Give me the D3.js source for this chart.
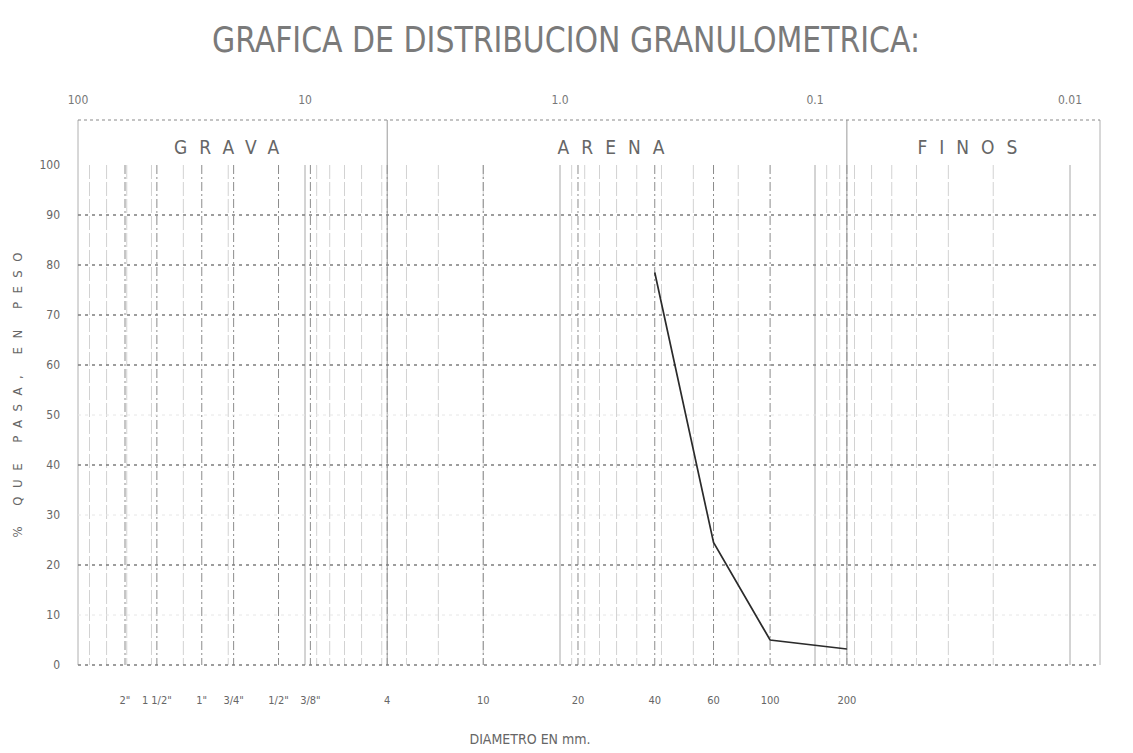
<!DOCTYPE html>
<html>
<head>
<meta charset="utf-8">
<script src="https://cdn.jsdelivr.net/npm/d3@7"></script>
<style>
  body { margin: 0; background: #fff; }
  svg { display: block; }
  text { font-family: 'Liberation Sans Narrow', 'DejaVu Sans Condensed', sans-serif; }
</style>
</head>
<body>
<svg id="chart" width="1133" height="753"></svg>
<script>
const title = 'GRAFICA  DE  DISTRIBUCION  GRANULOMETRICA:';

// escala superior (diametro en mm)
const topTicks = [100, 10, 1, 0.1, 0.01];
const topTickLabels = ['100', '10', '1.0', '0.1', '0.01'];

// mallas (abertura en mm) y su etiqueta
const sieveOpenings = [50.8, 38.1, 25.4, 19.05, 12.7, 9.525, 4.76, 2.0, 0.85, 0.425, 0.25, 0.15, 0.075];
const sieveLabels = ['2"', '1 1/2"', '1"', '3/4"', '1/2"', '3/8"', '4', '10', '20', '40', '60', '100', '200'];

// curva granulometrica
const curveOpenings = [0.425, 0.25, 0.15, 0.075];
const curvePassing = [78.5, 24.5, 5, 3.2];

const yTicks = [0, 10, 20, 30, 40, 50, 60, 70, 80, 90, 100];
const yDotted = [0, 20, 40, 60, 70, 80, 90];
const yFaint = [10, 30, 50];

const zones = ['GRAVA', 'ARENA', 'FINOS'];
const zoneLimits = [4.76, 0.075]; // separacion grava/arena y arena/finos

const W = 1133;
const plotLeft = 78;
const plotRight = 1100;
const frameTop = 120;

const svg = d3.select('#chart');

const x = d3.scaleLog().domain([100, 0.01]).range([50, 1070]);
const y = d3.scaleLinear().domain([0, 100]).range([665, 165]);

// titulo
svg.append('text')
  .attr('x', 566)
  .attr('y', 52)
  .attr('text-anchor', 'middle')
  .attr('font-size', 36)
  .attr('fill', '#7a7a7a')
  .attr('textLength', 708)
  .attr('lengthAdjust', 'spacingAndGlyphs')
  .text(title);

// rejilla menor (1..9 por decada)
const minor = [];
[10, 1, 0.1, 0.01].forEach((dec) => {
  for (let k = 1; k <= 9; k++) {
    const d = dec * k;
    const px = x(d);
    if (px > plotLeft + 4 && px < plotRight - 4) minor.push(d);
  }
});

const grid = svg.append('g');

grid.selectAll('line.minor')
  .data(minor)
  .enter()
  .append('line')
  .attr('class', 'minor')
  .attr('x1', (d) => x(d))
  .attr('x2', (d) => x(d))
  .attr('y1', y(100))
  .attr('y2', y(0))
  .attr('stroke', (d) => (topTicks.includes(d) ? '#a8a8a8' : '#d2d2d2'))
  .attr('stroke-width', 1)
  .attr('stroke-dasharray', (d) => (topTicks.includes(d) ? null : '14,3'));

grid.selectAll('line.sieve')
  .data(sieveOpenings)
  .enter()
  .append('line')
  .attr('class', 'sieve')
  .attr('x1', (d) => x(d))
  .attr('x2', (d) => x(d))
  .attr('y1', y(100))
  .attr('y2', y(0))
  .attr('stroke', '#8c8c8c')
  .attr('stroke-width', 1)
  .attr('stroke-dasharray', '9,3,2,3');

// separaciones de zona y marco
grid.selectAll('line.zone')
  .data(zoneLimits)
  .enter()
  .append('line')
  .attr('x1', (d) => x(d))
  .attr('x2', (d) => x(d))
  .attr('y1', frameTop)
  .attr('y2', y(0))
  .attr('stroke', '#999')
  .attr('stroke-width', 1);

[plotLeft, plotRight].forEach((px) => {
  grid.append('line')
    .attr('x1', px).attr('x2', px)
    .attr('y1', frameTop).attr('y2', y(0))
    .attr('stroke', '#b0b0b0')
    .attr('stroke-width', 1);
});

grid.append('line')
  .attr('x1', plotLeft).attr('x2', plotRight)
  .attr('y1', frameTop).attr('y2', frameTop)
  .attr('stroke', '#8a8a8a')
  .attr('stroke-width', 1.2)
  .attr('stroke-dasharray', '3,3');

grid.selectAll('line.hdot')
  .data(yDotted)
  .enter()
  .append('line')
  .attr('x1', plotLeft)
  .attr('x2', plotRight)
  .attr('y1', (d) => y(d))
  .attr('y2', (d) => y(d))
  .attr('stroke', '#7e7e7e')
  .attr('stroke-width', 1.3)
  .attr('stroke-dasharray', '3,4');

grid.selectAll('line.hfaint')
  .data(yFaint)
  .enter()
  .append('line')
  .attr('x1', plotLeft)
  .attr('x2', plotRight)
  .attr('y1', (d) => y(d))
  .attr('y2', (d) => y(d))
  .attr('stroke', '#e6e6e6')
  .attr('stroke-width', 1)
  .attr('stroke-dasharray', '3,4');

// escala superior
svg.selectAll('text.top')
  .data(topTicks)
  .enter()
  .append('text')
  .attr('x', (d) => Math.min(Math.max(x(d), plotLeft), plotRight - 8))
  .attr('y', 104)
  .attr('text-anchor', 'middle')
  .attr('font-size', 12)
  .attr('fill', '#777')
  .text((d, i) => topTickLabels[i]);

// zonas
const zoneEdges = [plotLeft, x(zoneLimits[0]), x(zoneLimits[1]), plotRight];
svg.selectAll('text.zone')
  .data(zones)
  .enter()
  .append('text')
  .attr('x', (d, i) => (zoneEdges[i] + zoneEdges[i + 1]) / 2)
  .attr('y', 154)
  .attr('text-anchor', 'middle')
  .attr('font-size', 19)
  .attr('fill', '#666')
  .attr('letter-spacing', 12)
  .text((d) => d);

// eje y
svg.selectAll('text.ytick')
  .data(yTicks)
  .enter()
  .append('text')
  .attr('x', 60)
  .attr('y', (d) => y(d) + 4)
  .attr('text-anchor', 'end')
  .attr('font-size', 12)
  .attr('fill', '#666')
  .text((d) => d);

svg.append('text')
  .attr('transform', 'translate(22,395) rotate(-90)')
  .attr('text-anchor', 'middle')
  .attr('font-size', 13)
  .attr('fill', '#666')
  .attr('textLength', 285)
  .attr('lengthAdjust', 'spacing')
  .text('% QUE PASA, EN PESO');

// etiquetas de mallas
svg.selectAll('text.sieve')
  .data(sieveOpenings)
  .enter()
  .append('text')
  .attr('x', (d) => x(d))
  .attr('y', 704)
  .attr('text-anchor', 'middle')
  .attr('font-size', 11)
  .attr('fill', '#666')
  .text((d, i) => sieveLabels[i]);

svg.append('text')
  .attr('x', 530)
  .attr('y', 744)
  .attr('text-anchor', 'middle')
  .attr('font-size', 14)
  .attr('fill', '#666')
  .text('DIAMETRO EN mm.');

// curva
const line = d3.line()
  .x((d) => x(d[0]))
  .y((d) => y(d[1]));

svg.append('path')
  .datum(curveOpenings.map((d, i) => [d, curvePassing[i]]))
  .attr('d', line)
  .attr('fill', 'none')
  .attr('stroke', '#2b2b2b')
  .attr('stroke-width', 1.7);
</script>
</body>
</html>
